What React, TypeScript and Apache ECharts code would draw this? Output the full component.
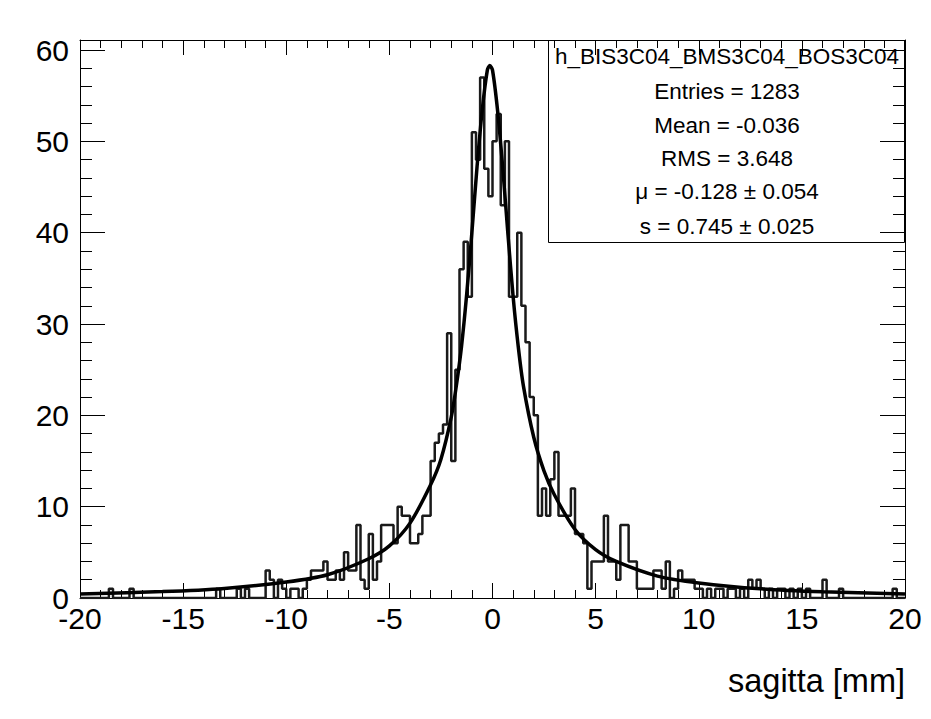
import React, { useEffect, useRef } from "react";
import * as echarts from "echarts";

// Histogram definition: 200 bins of 0.2 mm from -20 to 20
const xMin = -20;
const xMax = 20;
const binWidth = 0.2;

// Bin contents, rows of 10 bins (each row spans 2 mm), starting at -20
const binCounts: number[] = [
  0, 0, 0, 0, 0, 0, 0, 1, 0, 0, // -20.0 .. -18.2
  0, 0, 1, 0, 0, 0, 0, 0, 0, 0, // -18.0 .. -16.2
  0, 0, 0, 0, 0, 0, 0, 0, 0, 0, // -16.0 .. -14.2
  0, 0, 0, 1, 0, 0, 0, 0, 1, 0, // -14.0 .. -12.2
  1, 0, 0, 0, 0, 3, 2, 0, 2, 1, // -12.0 .. -10.2
  0, 1, 1, 0, 1, 2, 3, 3, 3, 4, // -10.0 .. -8.2
  2, 2, 3, 2, 5, 3, 3, 8, 2, 1, // -8.0 .. -6.2
  7, 2, 4, 8, 8, 8, 6, 10, 9, 9, // -6.0 .. -4.2
  6, 6, 7, 9, 9, 15, 17, 18, 19, 29, // -4.0 .. -2.2
  15, 25, 36, 39, 33, 51, 48, 57, 47, 44, // -2.0 .. -0.2
  50, 53, 43, 50, 33, 33, 40, 32, 28, 22, // 0.0 .. 1.8
  20, 9, 12, 9, 13, 16, 9, 9, 9, 12, // 2.0 .. 3.8
  7, 7, 6, 1, 4, 4, 4, 9, 4, 4, // 4.0 .. 5.8
  2, 8, 8, 4, 4, 1, 1, 1, 1, 3, // 6.0 .. 7.8
  3, 1, 4, 0, 1, 3, 2, 2, 2, 1, // 8.0 .. 9.8
  1, 0, 1, 0, 1, 1, 0, 1, 1, 0, // 10.0 .. 11.8
  1, 0, 2, 1, 2, 1, 0, 1, 0, 1, // 12.0 .. 13.8
  1, 0, 1, 0, 1, 0, 1, 0, 0, 0, // 14.0 .. 15.8
  2, 0, 0, 0, 1, 0, 0, 0, 0, 0, // 16.0 .. 17.8
  0, 0, 0, 0, 0, 0, 0, 1, 0, 0, // 18.0 .. 19.8
];

// Fit curve
const fitX: number[] = [
  -20, -16, -13, -10, -8, -6, -5, -4, -3, -2.5, -2, -1.75, -1.5, -1.25, -1.0,
  -0.75, -0.5, -0.25, -0.13, 0, 0.25, 0.5, 0.75, 1.0, 1.25, 1.5, 2.0, 2.5, 3.0,
  4.0, 5.0, 6.0, 8.0, 10.0, 13.0, 16.0, 20.0,
];
const fitY: number[] = [
  0.45, 0.7, 1.05, 1.75, 2.55, 4.3, 5.7, 8.2, 12.4, 15.2, 19.8, 23.3, 27.6, 33.3, 40.0,
  47.2, 53.4, 57.8, 58.3, 57.8, 53.3, 47.0, 39.8, 33.0, 27.5, 23.2, 17.6, 13.9, 11.3,
  7.5, 5.3, 4.0, 2.4, 1.65, 1.0, 0.68, 0.45,
];

const statsTitle = "h_BIS3C04_BMS3C04_BOS3C04";
const statsLines: string[] = [
  "Entries = 1283",
  "Mean = -0.036",
  "RMS = 3.648",
  "\u03bc = -0.128 \u00b1 0.054",
  "s = 0.745 \u00b1 0.025",
];
const xAxisTitle = "sagitta [mm]";

const FONT = "'Liberation Sans', Arial, Helvetica, sans-serif";

export default function App() {
  const ref = useRef<HTMLDivElement>(null);

  useEffect(() => {
    if (!ref.current) return;
    const chart = echarts.init(ref.current, null, { renderer: "svg" });

    const histData: number[][] = binCounts.map((c, i) => [
      Math.round((xMin + i * binWidth) * 10) / 10,
      c,
    ]);
    histData.push([xMax, binCounts[binCounts.length - 1]]);
    const fitData = fitX.map((x, i) => [x, fitY[i]]);

    const axisLineStyle = { color: "#000", width: 1 };
    const xAxisCommon = {
      type: "value" as const,
      min: xMin,
      max: xMax,
      interval: 5,
      axisLine: { show: true, onZero: false, lineStyle: axisLineStyle },
      axisTick: { show: true, inside: true, length: 15, lineStyle: axisLineStyle },
      minorTick: { show: true, splitNumber: 5, length: 8, lineStyle: axisLineStyle },
      splitLine: { show: false },
      minorSplitLine: { show: false },
    };
    const yAxisCommon = {
      type: "value" as const,
      min: 0,
      max: 61.1,
      interval: 10,
      axisLine: { show: true, onZero: false, lineStyle: axisLineStyle },
      axisTick: { show: true, inside: true, length: 25, lineStyle: axisLineStyle },
      minorTick: { show: true, splitNumber: 5, length: 12, lineStyle: axisLineStyle },
      splitLine: { show: false },
      minorSplitLine: { show: false },
    };

    const statsLineY = [91, 125, 158, 191, 226];

    chart.setOption({
      animation: false,
      backgroundColor: "#fff",
      grid: { left: 80, right: 26, top: 40, bottom: 121, containLabel: false },
      xAxis: [
        {
          ...xAxisCommon,
          position: "bottom",
          axisLabel: {
            show: true,
            fontSize: 30,
            color: "#000",
            fontFamily: FONT,
            margin: 5,
          },
        },
        {
          ...xAxisCommon,
          position: "top",
          axisLabel: { show: false },
        },
      ],
      yAxis: [
        {
          ...yAxisCommon,
          position: "left",
          axisLabel: {
            show: true,
            fontSize: 30,
            color: "#000",
            fontFamily: FONT,
            margin: 11,
            showMaxLabel: false,
          },
        },
        {
          ...yAxisCommon,
          position: "right",
          axisLabel: { show: false },
        },
      ],
      series: [
        {
          type: "line",
          name: "hist",
          data: histData,
          step: "end",
          symbol: "none",
          xAxisIndex: 0,
          yAxisIndex: 0,
          lineStyle: { color: "#1a1a1a", width: 2.5 },
          z: 3,
        },
        {
          type: "line",
          name: "fit",
          data: fitData,
          smooth: 0.3,
          symbol: "none",
          xAxisIndex: 0,
          yAxisIndex: 0,
          lineStyle: { color: "#000", width: 3.5 },
          z: 4,
        },
      ],
      graphic: [
        {
          type: "rect",
          shape: { x: 548.5, y: 40.5, width: 356, height: 202 },
          style: { fill: "rgba(0,0,0,0)", stroke: "#000", lineWidth: 1 },
          z: 10,
        },
        {
          type: "text",
          x: 727,
          y: 56,
          style: {
            text: statsTitle,
            fontSize: 22.5,
            fontFamily: FONT,
            fill: "#000",
            align: "center",
            verticalAlign: "middle",
          },
          z: 10,
        },
        ...statsLines.map((t, i) => ({
          type: "text",
          x: 727,
          y: statsLineY[i],
          style: {
            text: t,
            fontSize: 22.5,
            fontFamily: FONT,
            fill: "#000",
            align: "center",
            verticalAlign: "middle",
          },
          z: 10,
        })),
        {
          type: "text",
          x: 905,
          y: 681,
          style: {
            text: xAxisTitle,
            fontSize: 32.5,
            fontFamily: FONT,
            fill: "#000",
            align: "right",
            verticalAlign: "middle",
          },
          z: 10,
        },
      ],
    });

    return () => chart.dispose();
  }, []);

  return (
    <div
      ref={ref}
      style={{
        position: "absolute",
        left: 0,
        top: 0,
        width: 931,
        height: 719,
        background: "#fff",
      }}
    />
  );
}
